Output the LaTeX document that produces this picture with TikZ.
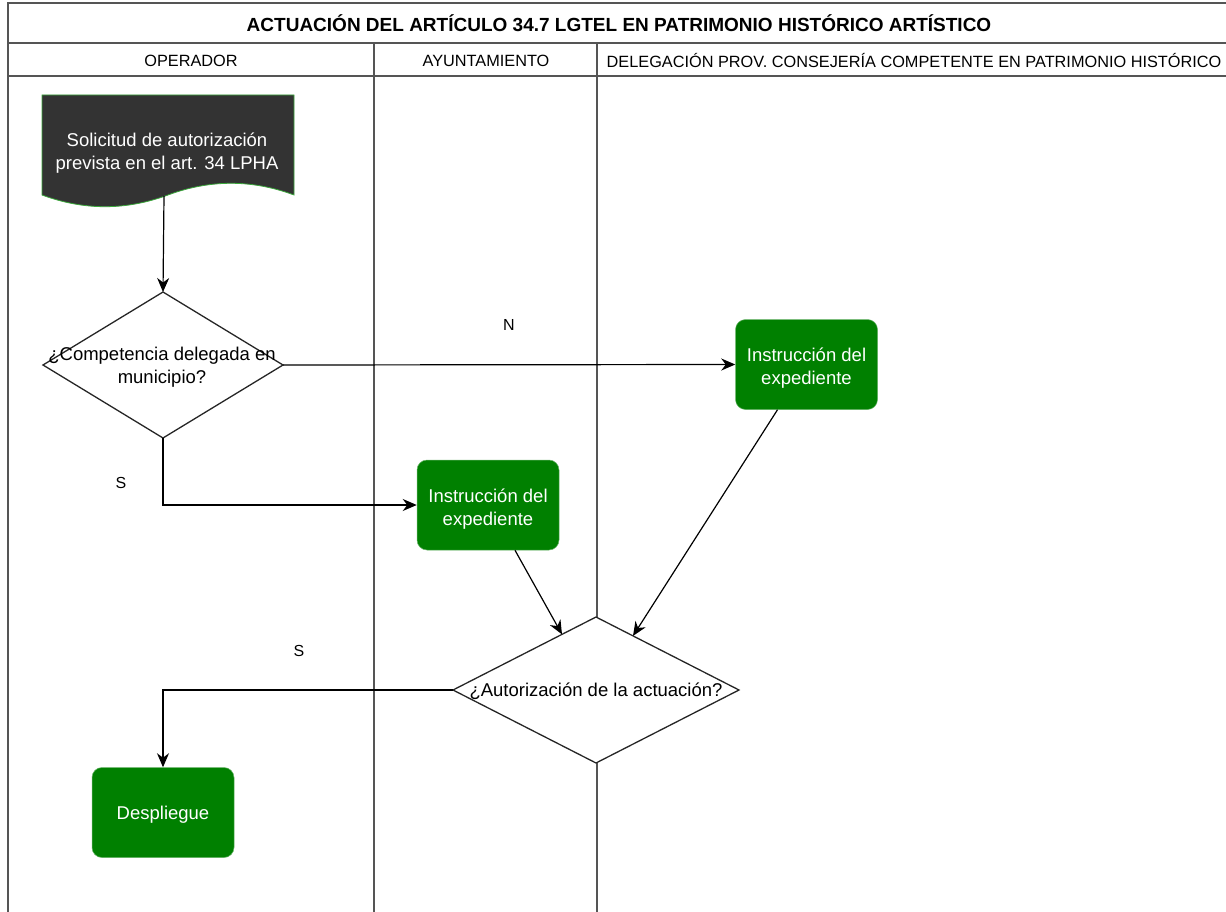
\documentclass[tikz,border=0pt]{standalone}
\usepackage{fontspec}
\setmainfont{Liberation Sans}
\usetikzlibrary{arrows.meta}
\definecolor{framec}{HTML}{555555}
\definecolor{boxgreen}{HTML}{008000}
\definecolor{docfill}{HTML}{333333}
\definecolor{docline}{HTML}{3AA63A}
\begin{document}
\begin{tikzpicture}[x=1pt,y=-1pt,
  lane/.style={draw=framec,line width=1.7pt},
  conn/.style={draw=black,line width=1.2pt,-{Stealth[length=14pt,width=12pt,inset=4.5pt]}},
  proc/.style={rectangle,rounded corners=10pt,fill=boxgreen,draw=boxgreen!60!white,line width=0.5pt,
    minimum width=142pt,minimum height=90pt,text=white,align=center},
  ptext/.style={text=white,font=\fontsize{18.5}{23}\selectfont,align=center},
  dia/.style={draw=black!85,line width=1.3pt,fill=white},
  diatext/.style={font=\fontsize{18.5}{23}\selectfont,align=center,inner sep=0pt},
  lbl/.style={font=\fontsize{16}{18}\selectfont},
  hdr/.style={font=\fontsize{16.3}{18}\selectfont},
  ttl/.style={font=\bfseries\fontsize{19}{21}\selectfont},
  ]
\useasboundingbox (0,0) rectangle (1226,912);

% frame
\draw[lane] (1230,3) -- (8,3) -- (8,914);
\draw[lane] (8,43) -- (1230,43);
\draw[lane] (8,76) -- (1230,76);
\draw[lane] (374,43) -- (374,914);
\draw[lane] (597,43) -- (597,914);

\node[ttl] (title) at (619,23) {ACTUACIÓN DEL ARTÍCULO 34.7 LGTEL EN PATRIMONIO HISTÓRICO ARTÍSTICO};
\node[hdr] (h1) at (191,61) {OPERADOR};
\node[hdr] (h2) at (486,61) {AYUNTAMIENTO};
\node[hdr] (h3) at (914,61) {DELEGACIÓN PROV. CONSEJERÍA COMPETENTE EN PATRIMONIO HISTÓRICO};

% document shape
\filldraw[fill=docfill,draw=docline,line width=0.8pt]
  (42,95) -- (294,95) -- (294,195)
  .. controls (252,179.4) and (210,179.4) .. (168,195)
  .. controls (126,210.6) and (84,210.6) .. (42,195) -- cycle;
\node[ptext] (doc) at (167,153)
  {Solicitud de autorización\\prevista en el art. 34 LPHA};
\coordinate (docb) at (164,196);

% diamond 1
\filldraw[dia] (43,365) -- (163,292) -- (283,365) -- (163,438) -- cycle;
\coordinate (d1t) at (163,292);
\coordinate (d1r) at (283,365);
\coordinate (d1b) at (163,438);
\node[diatext] (d1) at (162,367) {¿Competencia delegada en\\municipio?};

% diamond 2
\filldraw[dia] (453,690) -- (596,617) -- (739,690) -- (596,763) -- cycle;
\coordinate (d2l) at (453,690);
\coordinate (d2ul) at (562,634.4);
\coordinate (d2ur) at (633,635.9);
\node[diatext] (d2) at (596,691) {¿Autorización de la actuación?};

% process boxes
\node[proc] (boxA) at (488,505) {};
\node[ptext] at ([yshift=-4pt]boxA.center) {Instrucción del\\expediente};
\node[proc] (boxB) at (806.5,364.5) {};
\node[ptext] at ([yshift=-4pt]boxB.center) {Instrucción del\\expediente};
\node[proc] (desp) at (163,812.5) {};
\node[ptext] at ([yshift=-2pt]desp.center) {Despliegue};

% connectors
\draw[conn] (docb) -- (d1t);
\draw[conn] (d1r) -- (boxB.west);
\draw[conn] (d1b) |- (boxA.west);
\draw[conn] ([xshift=27pt]boxA.south) -- (d2ul);
\draw[conn] ([xshift=-29pt]boxB.south) -- (d2ur);
\draw[conn] (d2l) -| (desp.north);

% labels
\node[lbl] (lN) at (509,325) {N};
\node[lbl] (lS1) at (121,483) {S};
\node[lbl] (lS2) at (299,651) {S};
\end{tikzpicture}
\end{document}
